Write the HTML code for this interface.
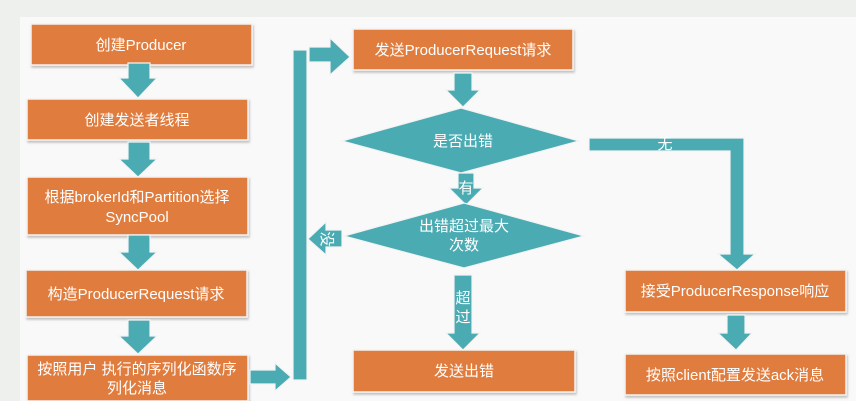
<!DOCTYPE html>
<html><head><meta charset="utf-8"><style>
html,body{margin:0;padding:0;background:#eef0ee;}
svg{display:block}
text{font-family:"Liberation Sans","Noto Sans CJK SC",sans-serif;fill:#fff;font-size:15px;}
</style></head><body>
<svg width="856" height="401" viewBox="0 0 856 401" xmlns="http://www.w3.org/2000/svg">
<defs>
<filter id="sh" x="-5%" y="-10%" width="110%" height="130%"><feDropShadow dx="1" dy="2" stdDeviation="1" flood-color="#888" flood-opacity="0.5"/></filter>
</defs>
<rect x="0" y="0" width="856" height="401" fill="#eef0ee"/>
<rect x="20" y="17" width="836" height="384" fill="#f9f9f9"/>
<g fill="#e07c3c" stroke="#f3f3f3" stroke-width="1.5" filter="url(#sh)">
<rect x="31" y="24" width="221" height="41"/>
<rect x="27" y="99" width="221" height="41"/>
<rect x="27" y="177" width="221" height="58"/>
<rect x="26" y="270" width="221" height="47"/>
<rect x="27" y="355" width="221" height="46"/>
<rect x="353" y="29" width="220" height="41"/>
<rect x="353" y="350" width="222" height="42"/>
<rect x="625" y="270" width="221" height="42"/>
<rect x="625" y="354" width="221" height="41"/>
</g>
<g fill="#4aabb3" stroke="#f3f3f3" stroke-width="1.2">
<polygon points="128,63 150,63 150,78 157,78 138,98 119,78 128,78"/>
<polygon points="128,142 150,142 150,159 157,159 138,177 119,159 128,159"/>
<polygon points="128,235 150,235 150,252 157,252 138,270 119,252 128,252"/>
<polygon points="128,320 150,320 150,336 157,336 138,354 119,336 128,336"/>
<polygon points="250,370 275,370 275,363 291,377 275,391 275,384 250,384"/>
<rect x="293" y="50" width="14" height="330"/>
<polygon points="309,47 330,47 330,38 350,57 330,75 330,62 309,62"/>
<polygon points="454,73 472,73 472,90 480,90 463,107 446,90 454,90"/>
<polygon points="342,141 461,108 579,141 461,173"/>
<polygon points="458,173 474,173 474,188 483,188 466,205 449,188 458,188"/>
<polygon points="344,236 464,203 584,236 464,268"/>
<polygon points="342,230 326,230 326,222 308,239 326,255 326,247 342,247"/>
<polygon points="454,275 472,275 472,333 480,333 463,350 446,333 454,333"/>
<polygon points="589,138 744,138 744,254 755,254 737,270 718,254 730,254 730,151 589,151"/>
<polygon points="727,315 745,315 745,333 752,333 736,350 718,333 727,333"/>
</g>
<g text-anchor="middle">
<text x="141" y="50">创建Producer</text>
<text x="137" y="125">创建发送者线程</text>
<text x="137" y="202">根据brokerId和Partition选择</text>
<text x="137" y="222">SyncPool</text>
<text x="136" y="299">构造ProducerRequest请求</text>
<text x="137" y="374">按照用户 执行的序列化函数序</text>
<text x="137" y="393">列化消息</text>
<text x="463" y="55">发送ProducerRequest请求</text>
<text x="463" y="146">是否出错</text>
<text x="466" y="193" font-size="14">有</text>
<text x="464" y="231">出错超过最大</text>
<text x="464" y="250">次数</text>
<text x="463" y="303" font-size="14">超</text>
<text x="463" y="322" font-size="14">过</text>
<text x="464" y="376">发送出错</text>
<text x="665" y="149" font-size="12">无</text>
<text x="735" y="296">接受ProducerResponse响应</text>
<text x="735" y="380">按照client配置发送ack消息</text>
</g>
<text x="0" y="0" font-size="13" text-anchor="middle" transform="translate(322,239) rotate(90)">没</text>
</svg>
</body></html>
